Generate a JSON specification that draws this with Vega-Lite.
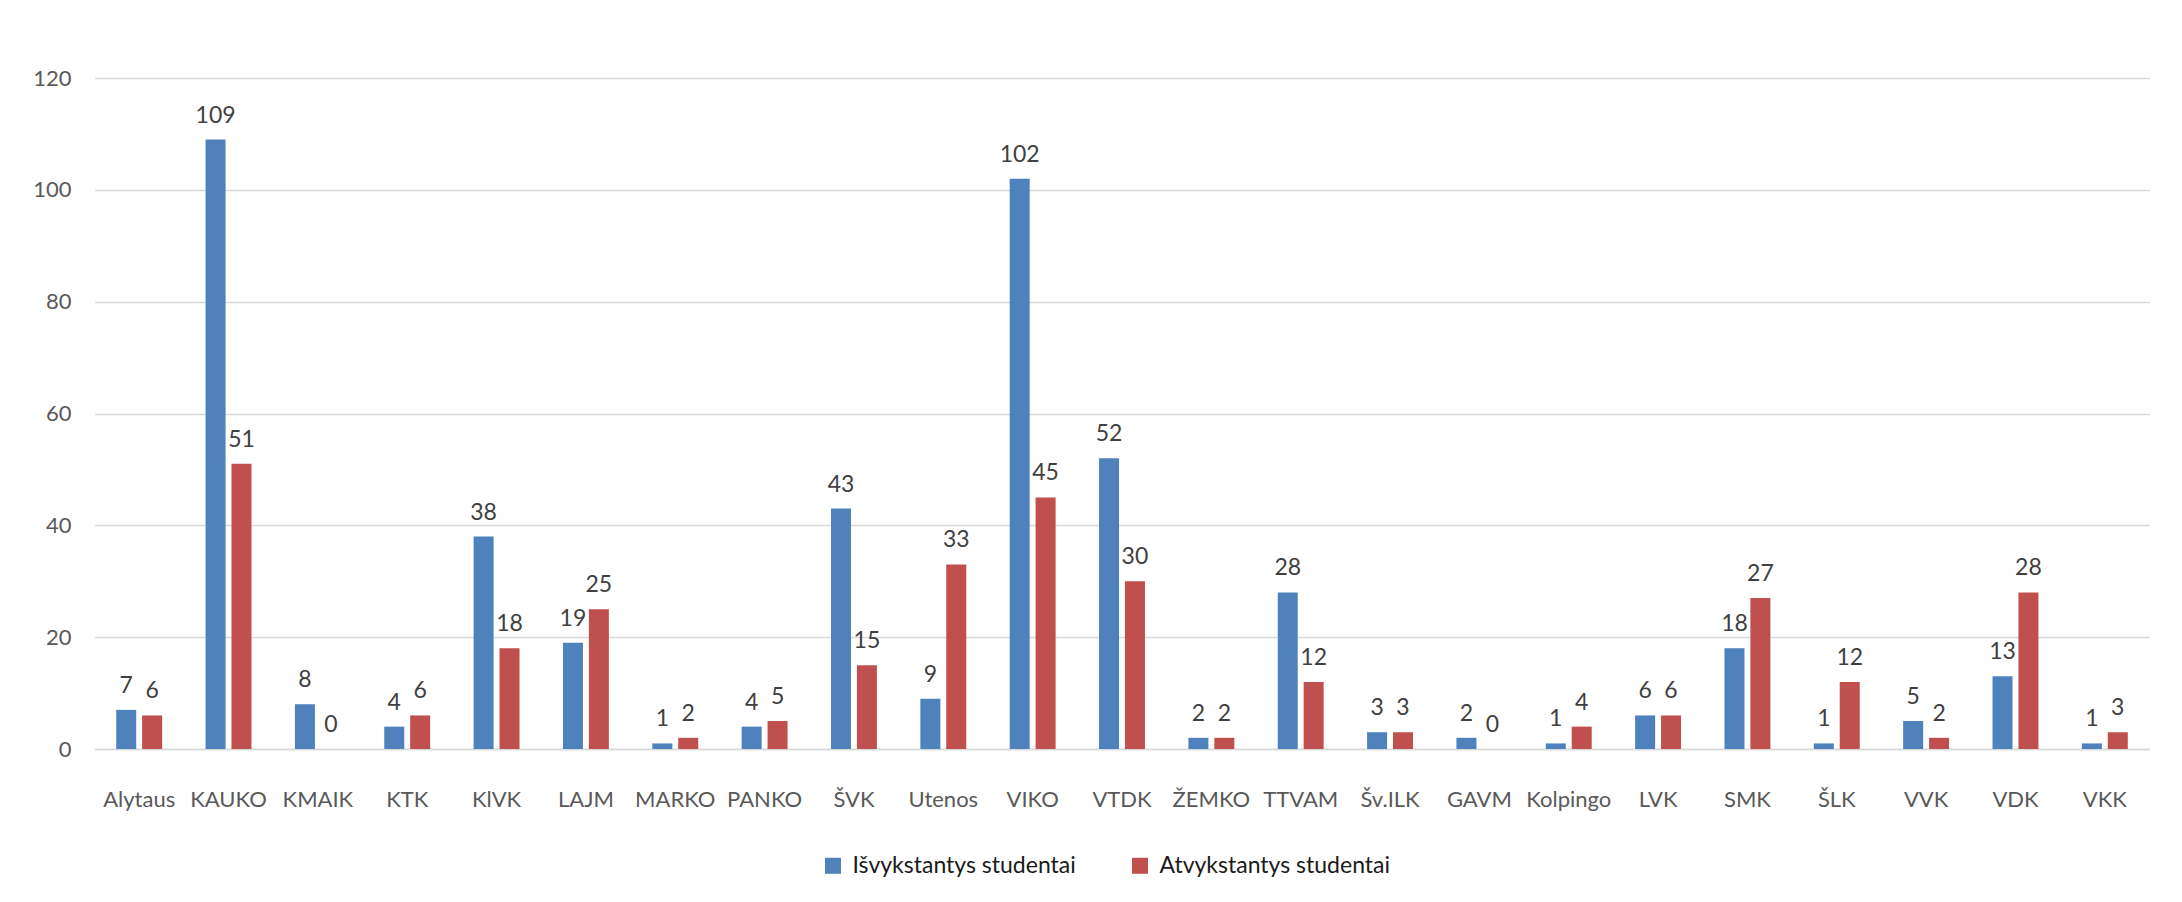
{
  "$schema": "https://vega.github.io/schema/vega-lite/v6.json",
  "width": 2055,
  "height": 671,
  "autosize": {"type": "none"},
  "padding": {"left": 94.5, "top": 78, "right": 32.5, "bottom": 153},
  "background": "white",
  "config": {"view": {"stroke": null}, "font": "Lato"},
  "data": {
    "values": [
      {"college": "Alytaus", "series": "Išvykstantys studentai", "value": 7},
      {"college": "Alytaus", "series": "Atvykstantys studentai", "value": 6},
      {"college": "KAUKO", "series": "Išvykstantys studentai", "value": 109},
      {"college": "KAUKO", "series": "Atvykstantys studentai", "value": 51},
      {"college": "KMAIK", "series": "Išvykstantys studentai", "value": 8},
      {"college": "KMAIK", "series": "Atvykstantys studentai", "value": 0},
      {"college": "KTK", "series": "Išvykstantys studentai", "value": 4},
      {"college": "KTK", "series": "Atvykstantys studentai", "value": 6},
      {"college": "KlVK", "series": "Išvykstantys studentai", "value": 38},
      {"college": "KlVK", "series": "Atvykstantys studentai", "value": 18},
      {"college": "LAJM", "series": "Išvykstantys studentai", "value": 19},
      {"college": "LAJM", "series": "Atvykstantys studentai", "value": 25},
      {"college": "MARKO", "series": "Išvykstantys studentai", "value": 1},
      {"college": "MARKO", "series": "Atvykstantys studentai", "value": 2},
      {"college": "PANKO", "series": "Išvykstantys studentai", "value": 4},
      {"college": "PANKO", "series": "Atvykstantys studentai", "value": 5},
      {"college": "ŠVK", "series": "Išvykstantys studentai", "value": 43},
      {"college": "ŠVK", "series": "Atvykstantys studentai", "value": 15},
      {"college": "Utenos", "series": "Išvykstantys studentai", "value": 9},
      {"college": "Utenos", "series": "Atvykstantys studentai", "value": 33},
      {"college": "VIKO", "series": "Išvykstantys studentai", "value": 102},
      {"college": "VIKO", "series": "Atvykstantys studentai", "value": 45},
      {"college": "VTDK", "series": "Išvykstantys studentai", "value": 52},
      {"college": "VTDK", "series": "Atvykstantys studentai", "value": 30},
      {"college": "ŽEMKO", "series": "Išvykstantys studentai", "value": 2},
      {"college": "ŽEMKO", "series": "Atvykstantys studentai", "value": 2},
      {"college": "TTVAM", "series": "Išvykstantys studentai", "value": 28},
      {"college": "TTVAM", "series": "Atvykstantys studentai", "value": 12},
      {"college": "Šv.ILK", "series": "Išvykstantys studentai", "value": 3},
      {"college": "Šv.ILK", "series": "Atvykstantys studentai", "value": 3},
      {"college": "GAVM", "series": "Išvykstantys studentai", "value": 2},
      {"college": "GAVM", "series": "Atvykstantys studentai", "value": 0},
      {"college": "Kolpingo", "series": "Išvykstantys studentai", "value": 1},
      {"college": "Kolpingo", "series": "Atvykstantys studentai", "value": 4},
      {"college": "LVK", "series": "Išvykstantys studentai", "value": 6},
      {"college": "LVK", "series": "Atvykstantys studentai", "value": 6},
      {"college": "SMK", "series": "Išvykstantys studentai", "value": 18},
      {"college": "SMK", "series": "Atvykstantys studentai", "value": 27},
      {"college": "ŠLK", "series": "Išvykstantys studentai", "value": 1},
      {"college": "ŠLK", "series": "Atvykstantys studentai", "value": 12},
      {"college": "VVK", "series": "Išvykstantys studentai", "value": 5},
      {"college": "VVK", "series": "Atvykstantys studentai", "value": 2},
      {"college": "VDK", "series": "Išvykstantys studentai", "value": 13},
      {"college": "VDK", "series": "Atvykstantys studentai", "value": 28},
      {"college": "VKK", "series": "Išvykstantys studentai", "value": 1},
      {"college": "VKK", "series": "Atvykstantys studentai", "value": 3}
    ]
  },
  "encoding": {
    "x": {
      "field": "college",
      "type": "nominal",
      "sort": null,
      "scale": {"paddingInner": 0.486, "paddingOuter": 0.243},
      "axis": {
        "title": null,
        "labelAngle": 0,
        "labelFontSize": 22,
        "labelColor": "#595959",
        "labelBaseline": "alphabetic",
        "labelPadding": 57,
        "ticks": false,
        "tickSize": 0,
        "domainColor": "#D9D9D9",
        "domainWidth": 1.5,
        "grid": false
      }
    },
    "xOffset": {
      "field": "series",
      "sort": ["Išvykstantys studentai", "Atvykstantys studentai"],
      "scale": {"paddingInner": 0.228, "paddingOuter": 0}
    },
    "y": {
      "field": "value",
      "type": "quantitative",
      "scale": {"domain": [0, 120], "nice": false},
      "axis": {
        "title": null,
        "values": [0, 20, 40, 60, 80, 100, 120],
        "labelFontSize": 22,
        "labelColor": "#595959",
        "labelPadding": 23.5,
        "ticks": false,
        "tickSize": 0,
        "domain": false,
        "grid": true,
        "gridColor": "#D9D9D9",
        "gridWidth": 1.5
      }
    }
  },
  "layer": [
    {
      "mark": {"type": "bar"},
      "encoding": {
        "color": {
          "field": "series",
          "type": "nominal",
          "scale": {
            "domain": ["Išvykstantys studentai", "Atvykstantys studentai"],
            "range": ["#4F81BD", "#C0504D"]
          },
          "legend": {
            "orient": "none",
            "legendX": 727,
            "legendY": 776,
            "direction": "horizontal",
            "title": null,
            "labelFontSize": 23,
            "labelColor": "#1a1a1a",
            "labelLimit": 0,
            "symbolType": "square",
            "symbolSize": 256,
            "symbolStrokeWidth": 0,
            "symbolOpacity": 1,
            "columnPadding": 52,
            "labelOffset": 8
          }
        }
      }
    },
    {
      "mark": {"type": "text", "baseline": "middle", "dy": -24, "fontSize": 23, "color": "#404040"},
      "encoding": {"text": {"field": "value", "type": "quantitative"}}
    }
  ]
}
